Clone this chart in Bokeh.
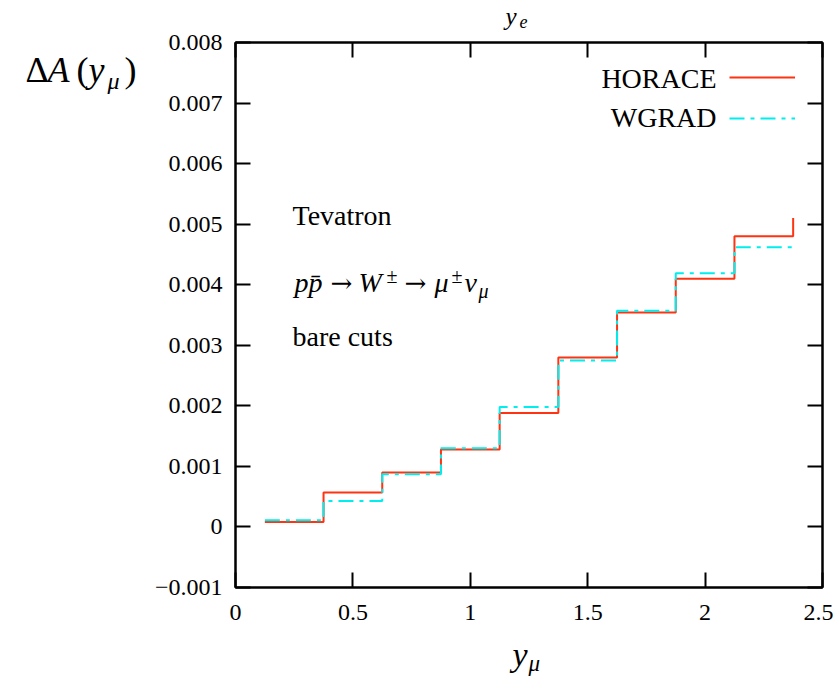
from bokeh.plotting import figure
from bokeh.models import (Range1d, LinearAxis, FixedTicker, CustomJSTickFormatter,
                          Label, Legend, LegendItem)
from bokeh.embed import file_html
from bokeh.resources import INLINE

# ---- data ----
x_edges = [0.125, 0.375, 0.625, 0.875, 1.125, 1.375, 1.625, 1.875, 2.125, 2.375]
horace = [0.00008, 0.00057, 0.00090, 0.00128, 0.00188, 0.00280, 0.00354, 0.00410, 0.00480, 0.00510]
wgrad = [0.00011, 0.00043, 0.00087, 0.00130, 0.00198, 0.00275, 0.00357, 0.00419, 0.00462, 0.00462]
x_ticks = [0, 0.5, 1.0, 1.5, 2.0, 2.5]
y_ticks = [-0.001, 0.0, 0.001, 0.002, 0.003, 0.004, 0.005, 0.006, 0.007, 0.008]
series_names = ["HORACE", "WGRAD"]

X0, X1 = 0.0, 2.5
Y0, Y1 = -0.001, 0.008

# frame geometry (pixels)
FL, FR, FT, FB = 235, 822, 42, 587
W, H = 833, 689

SERIF = "Liberation Serif"
RED = "#ff3311"
CYAN = "#00eeee"

p = figure(width=W, height=H, x_range=Range1d(X0, X1), y_range=Range1d(Y0, Y1),
           output_backend="svg", toolbar_location=None,
           min_border_left=FL, min_border_right=W - FR,
           min_border_top=FT, min_border_bottom=H - FB)
p.grid.visible = False
p.outline_line_color = "black"
p.outline_line_width = 2
p.background_fill_color = "white"
p.border_fill_color = "white"

def style_axis(ax, ticks, show_labels, standoff):
    ax.ticker = FixedTicker(ticks=ticks)
    ax.major_tick_in = 15
    ax.major_tick_out = 0
    ax.major_tick_line_width = 2
    ax.major_tick_line_color = "black"
    ax.minor_tick_line_color = None
    ax.axis_line_width = 2
    ax.axis_line_color = "black"
    if show_labels:
        ax.major_label_text_font = SERIF
        ax.major_label_text_font_size = "24px"
        ax.major_label_text_color = "black"
        ax.major_label_standoff = standoff
    else:
        ax.formatter = CustomJSTickFormatter(code="return '';")
        ax.major_label_text_font_size = "0px"
        ax.major_label_standoff = 0

style_axis(p.xaxis[0], x_ticks, True, 17)
p.xaxis[0].formatter = CustomJSTickFormatter(code="return String(tick);")
style_axis(p.yaxis[0], y_ticks, True, 13)
p.yaxis[0].formatter = CustomJSTickFormatter(code="""
if (Math.abs(tick) < 1e-12) return '0';
var s = Math.abs(tick).toFixed(3);
return (tick < 0 ? '\u2212' : '') + s;
""")

top_ax = LinearAxis()
style_axis(top_ax, x_ticks, False, 0)
p.add_layout(top_ax, "above")
right_ax = LinearAxis()
style_axis(right_ax, y_ticks, False, 0)
p.add_layout(right_ax, "right")

# ---- histograms ----
r1 = p.step(x_edges, horace, mode="after", line_color=RED, line_width=2)
r2 = p.step(x_edges, wgrad, mode="after", line_color=CYAN, line_width=2,
            line_dash="15 6 4 6")

legend = Legend(items=[LegendItem(label=" ", renderers=[r1]),
                       LegendItem(label=" ", renderers=[r2])],
                location=(494, 452), glyph_width=66, glyph_height=34,
                label_height=34, label_width=0, spacing=7, padding=0, margin=0,
                label_standoff=0, label_text_font_size="1px",
                border_line_color=None, background_fill_alpha=0)
p.add_layout(legend)

# ---- text annotations (positions in pixels converted to data space) ----
def px2x(px):
    return X0 + (px - FL) / (FR - FL) * (X1 - X0)

def py2y(py):
    return Y1 - (py - FT) / (FB - FT) * (Y1 - Y0)

def lab(text, px, py, size, italic=False, font=SERIF, align="left", place=None):
    # py is the wanted baseline; compensate the renderer's baseline offset
    l = Label(x=px2x(px), y=py2y(py - 0.37 * size), x_units="data", y_units="data",
              text=text, text_font=font, text_font_size=f"{size}px",
              text_font_style="italic" if italic else "normal",
              text_align=align, text_baseline="alphabetic",
              text_color="black")
    if place is None:
        p.add_layout(l)
    else:
        p.add_layout(l, place)

# legend texts (left of the samples)
lab(series_names[0], 716, 88, 28, align="right")
lab(series_names[1], 716, 127, 28, align="right")

# title y_e (kept in the roomy left panel so the top border stays narrow)
lab("y", 505, 25, 25, True, place="left")
lab("e", 519, 28, 18, True, place="left")
# y-axis label  ΔA(y_μ)
lab("\u0394", 25, 83, 36, place="left")
lab("A", 47, 83, 36, True, place="left")
lab("(", 76, 83, 36, place="left")
lab("y", 88, 83, 36, True, place="left")
lab("\u03bc", 107, 89, 24, True, place="left")
lab(")", 124, 83, 36, place="left")
# x-axis label y_μ
lab("y", 512, 667, 34, True, place="below")
lab("\u03bc", 528, 672, 23, True, place="below")

# in-plot annotations
lab("Tevatron", 292, 225, 28)
lab("pp\u0304", 294, 292, 28, True)
lab("\u2192", 330, 292, 26, font="DejaVu Serif")
lab("W", 358, 292, 28, True)
lab("\u00b1", 386, 283, 20)
lab("\u2192", 404, 292, 26, font="DejaVu Serif")
lab("\u03bc", 434, 292, 28, True)
lab("\u00b1", 451, 283, 20)
lab("\u03bd", 464, 292, 28, True)
lab("\u03bc", 478, 298, 20, True)
lab("bare cuts", 292, 346, 28)

open("out.html", "w").write(file_html(p, INLINE))
